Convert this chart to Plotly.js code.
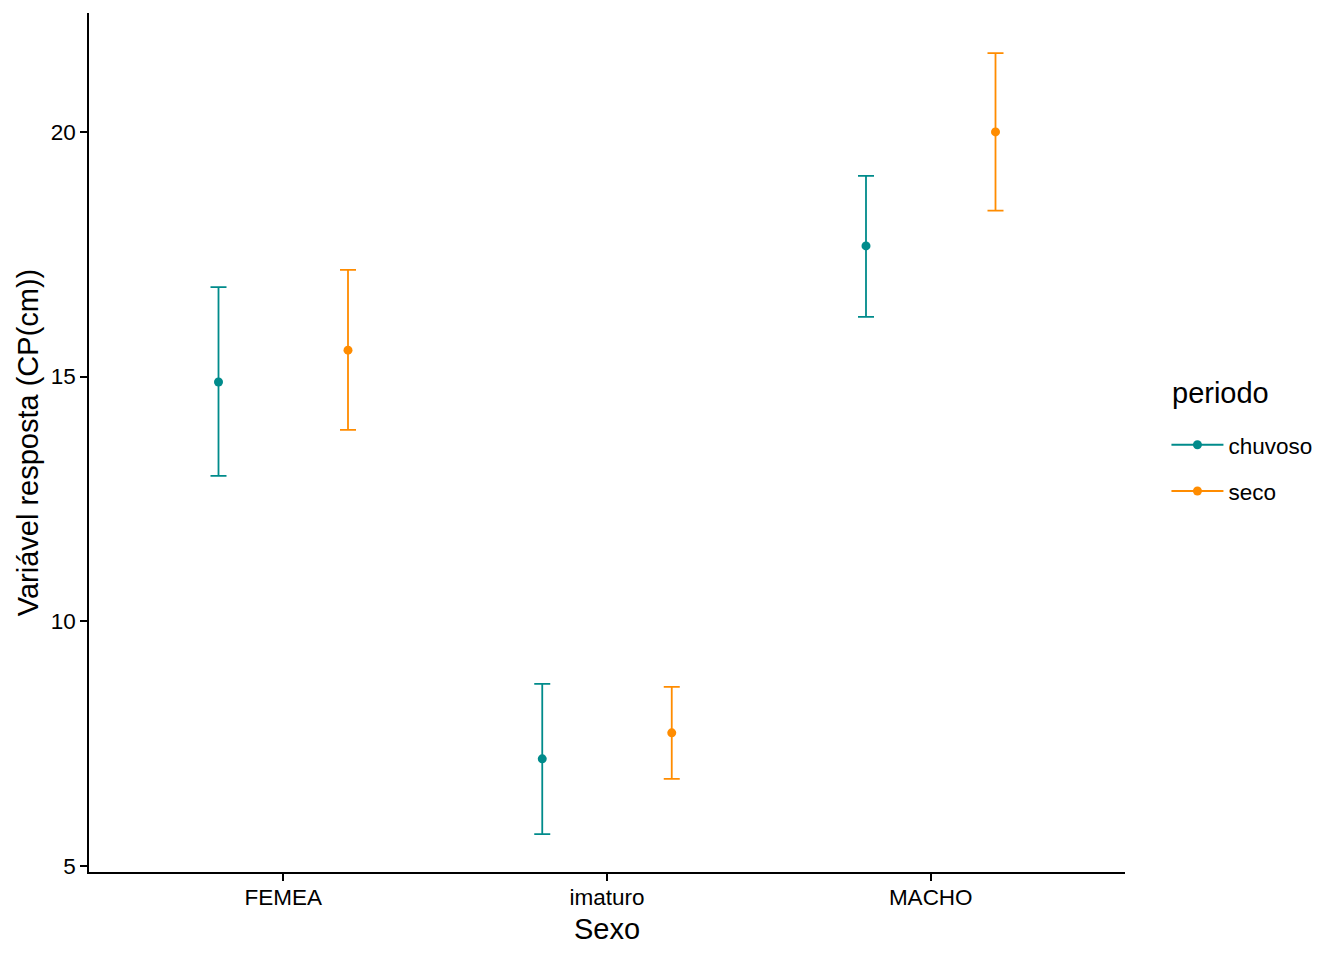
<!DOCTYPE html>
<html>
<head>
<meta charset="utf-8">
<script src="https://cdn.plot.ly/plotly-3.0.1.min.js"></script>
<style>
  body { margin: 0; background: #fff; }
  #chart { width: 1344px; height: 960px; }
</style>
</head>
<body>
<div id="chart"></div>
<script>
// categories on the x axis
const sexo = ["FEMEA", "imaturo", "MACHO"];

// periodo = chuvoso
const chuvosoMean = [14.89, 7.19, 17.67];
const chuvosoUpper = [16.83, 8.72, 19.10];
const chuvosoLower = [12.97, 5.65, 16.22];

// periodo = seco
const secoMean = [15.54, 7.72, 20.00];
const secoUpper = [17.18, 8.66, 21.61];
const secoLower = [13.91, 6.78, 18.39];

const yTicks = [5, 10, 15, 20];

const colors = { chuvoso: "#008B8B", seco: "#FF8C00" };
const font = "Liberation Sans, Arial, sans-serif";
const dodge = 0.2; // position_dodge, half of the group width

const catPos = sexo.map((s, i) => i + 1);

function errTrace(name, mean, upper, lower, color, shift) {
    return {
        type: "scatter",
        mode: "markers",
        name: name,
        x: catPos.map(p => p + shift),
        y: mean,
        text: sexo,
        marker: { color: color, size: 9 },
        error_y: {
            type: "data",
            symmetric: false,
            array: upper.map((u, i) => u - mean[i]),
            arrayminus: lower.map((l, i) => mean[i] - l),
            color: color,
            thickness: 1.8,
            width: 8
        },
        showlegend: false,
        hoverinfo: "text+y"
    };
}

// legend only entries (line + point key like ggplot)
function keyTrace(name, color) {
    return {
        type: "scatter",
        mode: "lines+markers",
        name: name,
        x: [null],
        y: [null],
        legendgroup: name,
        line: { color: color, width: 1.8 },
        marker: { color: color, size: 9 },
        showlegend: true
    };
}

const traces = [
    errTrace("chuvoso", chuvosoMean, chuvosoUpper, chuvosoLower, colors.chuvoso, -dodge),
    errTrace("seco", secoMean, secoUpper, secoLower, colors.seco, dodge),
    keyTrace("chuvoso", colors.chuvoso),
    keyTrace("seco", colors.seco)
];

const axisBase = {
    showline: true,
    linecolor: "#000",
    linewidth: 1.6,
    showgrid: false,
    zeroline: false,
    ticks: "outside",
    ticklen: 7,
    tickwidth: 1.6,
    tickcolor: "#000",
    tickfont: { size: 22.5, color: "#000" }
};

const layout = {
    width: 1344,
    height: 960,
    margin: { l: 89, r: 219, t: 13, b: 88 },
    paper_bgcolor: "#fff",
    plot_bgcolor: "#fff",
    font: { family: font, color: "#000", size: 22.5 },
    xaxis: Object.assign({}, axisBase, {
        range: [0.4, 3.6],
        tickvals: catPos,
        ticktext: sexo,
        ticklabelstandoff: -3,
        title: { text: "Sexo", font: { size: 29 }, standoff: 10 }
    }),
    yaxis: Object.assign({}, axisBase, {
        range: [4.877, 22.43],
        tickvals: yTicks,
        ticktext: yTicks.map(String),
        title: { text: "Variável resposta (CP(cm))", font: { size: 29 }, standoff: 4 }
    }),
    showlegend: true,
    legend: {
        x: 1.04,
        xanchor: "left",
        y: 0.522,
        yanchor: "top",
        traceorder: "grouped",
        tracegroupgap: 14,
        itemwidth: 52,
        font: { size: 22.5 },
        bgcolor: "rgba(0,0,0,0)"
    },
    // legend title, placed like ggplot's guide title
    annotations: [{
        text: "periodo",
        xref: "paper", yref: "paper",
        x: 1.043, xanchor: "left",
        y: (872 - 393) / 859, yanchor: "middle",
        showarrow: false,
        font: { size: 29, color: "#000" }
    }]
};

Plotly.newPlot("chart", traces, layout, { displayModeBar: false });
</script>
</body>
</html>
